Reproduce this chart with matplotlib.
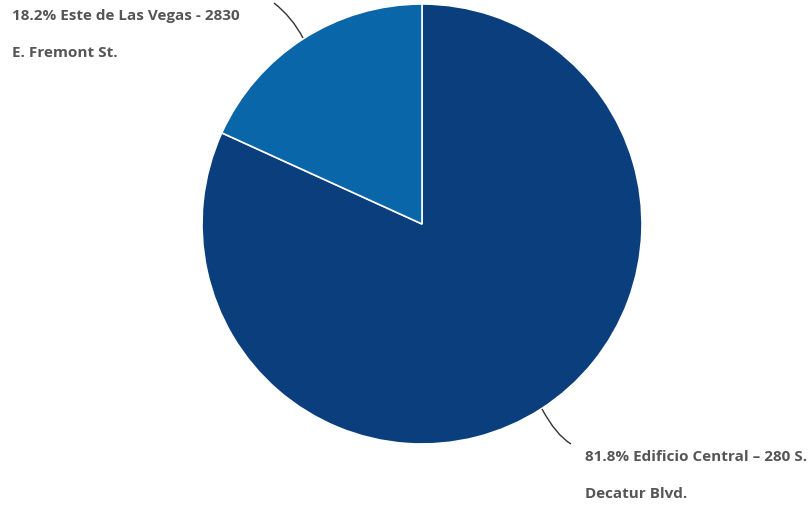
import matplotlib
matplotlib.use("Agg")
import matplotlib.pyplot as plt
from matplotlib.path import Path
from matplotlib.patches import PathPatch

# Share of visits by location
locations = ["Edificio Central – 280 S.\nDecatur Blvd.",
             "Este de Las Vegas - 2830\nE. Fremont St."]
shares = [81.8, 18.2]
colors = ["#0a3e7d", "#0866a9"]

W, H = 809, 506
fig = plt.figure(figsize=(W / 100, H / 100), dpi=100)
ax = fig.add_axes([0, 0, 1, 1])

cx, cy, r = 422, H - 225, 220
ax.pie(shares, colors=colors, startangle=90, counterclock=False,
       center=(cx, cy), radius=r, frame=True,
       wedgeprops=dict(edgecolor="white", linewidth=1.2))
ax.set_xlim(0, W)
ax.set_ylim(0, H)
ax.set_aspect("equal")
ax.axis("off")

label_font = dict(family="Open Sans", fontsize=11, fontweight="bold",
                  color="#555555")

# Labels with curved leader lines
label_pos = [(585, H - 457), (12, H - 16)]
leaders = [
    [(542, H - 410), (556, H - 436), (571, H - 445)],
    [(303, H - 39), (292, H - 18), (274, H - 4)],
]
for name, val, (tx, ty), pts in zip(locations, shares, label_pos, leaders):
    first, second = name.split("\n")
    ax.text(tx, ty, f"{val}% {first}", ha="left", va="center", **label_font)
    ax.text(tx, ty - 37, second, ha="left", va="center", **label_font)
    path = Path(pts, [Path.MOVETO, Path.CURVE3, Path.CURVE3])
    ax.add_patch(PathPatch(path, fill=False, edgecolor="#333333", linewidth=1))

fig.savefig("out.png", dpi=100, facecolor="white")
